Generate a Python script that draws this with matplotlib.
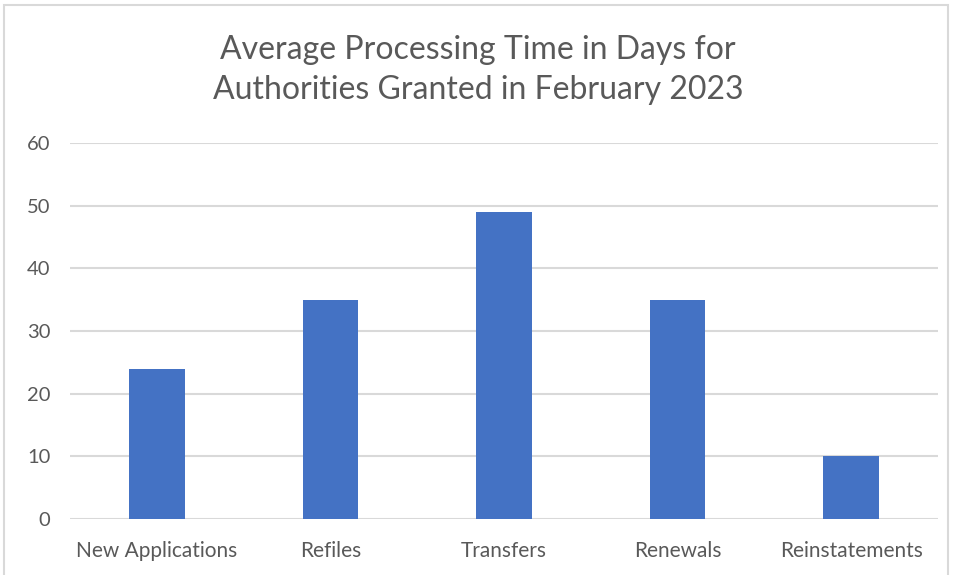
import matplotlib
matplotlib.use("Agg")
import matplotlib.pyplot as plt
from matplotlib.patches import Rectangle

categories = ["New Applications", "Refiles", "Transfers", "Renewals", "Reinstatements"]
days = [24, 35, 49, 35, 10]
yticks = [0, 10, 20, 30, 40, 50, 60]

BLUE, GRID, TXT = "#4472C4", "#D9D9D9", "#595959"
plt.rcParams["font.family"] = ["Lato", "DejaVu Sans"]

W, H = 956, 575
fig = plt.figure(figsize=(W / 100, H / 100), dpi=100)
ax = fig.add_axes([70 / W, 1 - 519 / H, 868 / W, 376 / H])

x = range(len(categories))
ax.bar(x, days, width=0.32, color=BLUE, zorder=3)
ax.set_xlim(-0.5, len(categories) - 0.5)
ax.set_ylim(0, 60)
ax.set_yticks(yticks)
ax.set_xticks(list(x))
ax.set_xticklabels(categories, fontsize=15)
ax.grid(axis="y", color=GRID, linewidth=1.5, zorder=0)
for s in ax.spines.values():
    s.set_visible(False)
ax.tick_params(length=0, colors=TXT)
ax.tick_params(axis="y", pad=14, labelsize=14.5)
ax.tick_params(axis="x", pad=16)

fig.text(0.5, 1 - 70 / H, "Average Processing Time in Days for\nAuthorities Granted in February 2023",
         ha="center", va="center", fontsize=23, color=TXT, linespacing=1.38)

# chart border
fig.add_artist(Rectangle((4 / W, -0.01), 944 / W, 1 - 5 / H + 0.01, transform=fig.transFigure,
                         fill=False, edgecolor="#D9D9D9", linewidth=1.5))

fig.savefig("out.png", dpi=100)
